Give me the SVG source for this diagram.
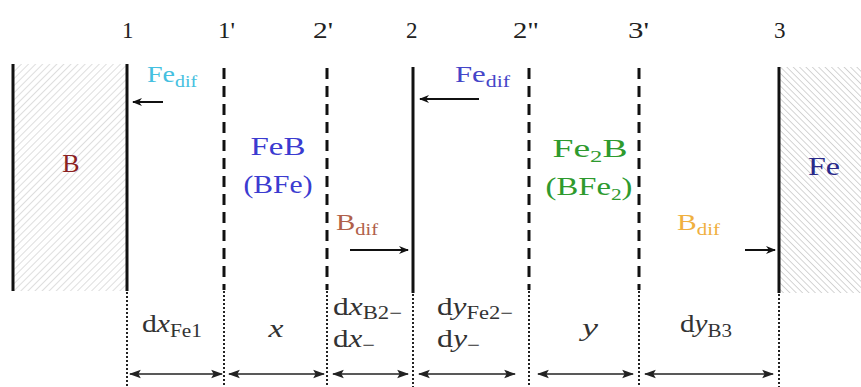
<svg xmlns="http://www.w3.org/2000/svg" width="861" height="387" viewBox="0 0 861 387">
<defs>
<pattern id="hatchL" width="5" height="5" patternUnits="userSpaceOnUse" patternTransform="rotate(45)">
<line x1="0" y1="0" x2="0" y2="5" stroke="#c8c8c8" stroke-width="1.2"/>
</pattern>
<pattern id="hatchR" width="4.5" height="4.5" patternUnits="userSpaceOnUse" patternTransform="rotate(-45)">
<line x1="0" y1="0" x2="0" y2="4.5" stroke="#bdbdbd" stroke-width="1.3"/>
</pattern>
<marker id="ah" viewBox="0 0 10 10" refX="9" refY="5" markerWidth="5" markerHeight="5" orient="auto-start-reverse" markerUnits="strokeWidth">
<path d="M0,1 L10,5 L0,9 L3,5 Z" fill="#111"/>
</marker>
<marker id="ad" viewBox="0 0 10 10" refX="9" refY="5" markerWidth="8" markerHeight="8" orient="auto-start-reverse" markerUnits="strokeWidth">
<path d="M0,1.5 L10,5 L0,8.5 L2,5 Z" fill="#222"/>
</marker>
</defs>
<style>
text{font-family:"Liberation Serif","Times New Roman",serif}
.num{font-size:23px;fill:#222}
.big{font-size:26px;text-anchor:middle}
.sub{font-size:17px}
.lbl{font-size:25px;fill:#333}
.lsub{font-size:18px}
.sol{stroke:#111;stroke-width:3;fill:none}
.dash{stroke:#111;stroke-width:3;stroke-dasharray:11 7;fill:none}
.dot{stroke:#222;stroke-width:2;stroke-dasharray:2 2;fill:none}
.flux{stroke:#111;stroke-width:2;fill:none}
.dim{stroke:#222;stroke-width:1.5;fill:none}
</style>

<g id="regionB">
<rect x="13" y="64" width="114" height="227" fill="url(#hatchL)"/>
<line class="sol" x1="13" y1="64" x2="13" y2="291"/>
<text class="big" x="71" y="172" fill="#8b2222">B</text>
</g>
<g id="regionFe">
<rect x="779" y="67" width="82" height="226" fill="url(#hatchR)"/>
<text class="big" x="824" y="175" fill="#2a2a8a" textLength="32" lengthAdjust="spacingAndGlyphs">Fe</text>
</g>
<g id="regionFeB">
<text class="big" x="278" y="155" fill="#3b3bd0" textLength="55" lengthAdjust="spacingAndGlyphs">FeB</text>
<text class="big" x="278" y="193" fill="#3b3bd0" textLength="69" lengthAdjust="spacingAndGlyphs">(BFe)</text>
</g>
<g id="regionFe2B">
<text class="big" x="590" y="157" fill="#2e9a2e" textLength="75" lengthAdjust="spacingAndGlyphs">Fe<tspan class="sub" dy="5">2</tspan><tspan dy="-5">B</tspan></text>
<text class="big" x="589" y="195" fill="#2e9a2e" textLength="87" lengthAdjust="spacingAndGlyphs">(BFe<tspan class="sub" dy="5">2</tspan><tspan dy="-5">)</tspan></text>
</g>

<g id="boundaries">
<line id="b1" class="sol" x1="127" y1="64" x2="127" y2="291"/>
<line id="b1p" class="dash" x1="224" y1="68" x2="224" y2="290"/>
<line id="b2p" class="dash" x1="327" y1="68" x2="327" y2="290"/>
<line id="b2" class="sol" x1="413" y1="67" x2="413" y2="293"/>
<line id="b2pp" class="dash" x1="529" y1="68" x2="529" y2="290"/>
<line id="b3p" class="dash" x1="639" y1="68" x2="639" y2="290"/>
<line id="b3" class="sol" x1="779" y1="67" x2="779" y2="293"/>
<line class="dot" x1="127" y1="292" x2="127" y2="387"/>
<line class="dot" x1="224" y1="291" x2="224" y2="387"/>
<line class="dot" x1="327" y1="291" x2="327" y2="387"/>
<line class="dot" x1="413" y1="294" x2="413" y2="387"/>
<line class="dot" x1="529" y1="291" x2="529" y2="387"/>
<line class="dot" x1="639" y1="291" x2="639" y2="387"/>
<line class="dot" x1="779" y1="294" x2="779" y2="387"/>
</g>

<g id="numbers">
<text class="num" x="122" y="38">1</text>
<text class="num" x="218" y="38" textLength="17" lengthAdjust="spacingAndGlyphs">1'</text>
<text class="num" x="313" y="38" textLength="20" lengthAdjust="spacingAndGlyphs">2'</text>
<text class="num" x="406" y="38">2</text>
<text class="num" x="513" y="38" textLength="26" lengthAdjust="spacingAndGlyphs">2"</text>
<text class="num" x="628" y="38" textLength="21" lengthAdjust="spacingAndGlyphs">3'</text>
<text class="num" x="774" y="38">3</text>
</g>

<g id="fluxes">
<line class="flux" x1="163" y1="102" x2="133" y2="102" marker-end="url(#ah)"/>
<line class="flux" x1="479" y1="99" x2="420" y2="99" marker-end="url(#ah)"/>
<line class="flux" x1="350" y1="250" x2="408" y2="250" marker-end="url(#ah)"/>
<line class="flux" x1="745" y1="250" x2="775" y2="250" marker-end="url(#ah)"/>
<text x="147" y="82" fill="#45c0e0" font-size="24" textLength="50" lengthAdjust="spacingAndGlyphs">Fe<tspan class="sub" dy="5">dif</tspan></text>
<text x="455" y="82" fill="#4545c8" font-size="24" textLength="55" lengthAdjust="spacingAndGlyphs">Fe<tspan class="sub" dy="5">dif</tspan></text>
<text x="336" y="230" fill="#b0604a" font-size="24" textLength="42" lengthAdjust="spacingAndGlyphs">B<tspan class="sub" dy="5">dif</tspan></text>
<text x="677" y="230" fill="#f0b040" font-size="24" textLength="43" lengthAdjust="spacingAndGlyphs">B<tspan class="sub" dy="5">dif</tspan></text>
</g>

<g id="dimensions">
<line class="dim" x1="130" y1="374" x2="222" y2="374" marker-start="url(#ad)" marker-end="url(#ad)"/>
<line class="dim" x1="229" y1="374" x2="324" y2="374" marker-start="url(#ad)" marker-end="url(#ad)"/>
<line class="dim" x1="333" y1="374" x2="408" y2="374" marker-start="url(#ad)" marker-end="url(#ad)"/>
<line class="dim" x1="419" y1="374" x2="515" y2="374" marker-start="url(#ad)" marker-end="url(#ad)"/>
<line class="dim" x1="538" y1="374" x2="633" y2="374" marker-start="url(#ad)" marker-end="url(#ad)"/>
<line class="dim" x1="645" y1="374" x2="773" y2="374" marker-start="url(#ad)" marker-end="url(#ad)"/>
</g>
<g id="widths">
<text class="lbl" x="142" y="332" textLength="60" lengthAdjust="spacingAndGlyphs">d<tspan font-style="italic">x</tspan><tspan class="lsub" dy="5">Fe1</tspan></text>
<text class="lbl" x="276" y="337" text-anchor="middle" font-style="italic" textLength="15" lengthAdjust="spacingAndGlyphs">x</text>
<text class="lbl" x="333" y="315" textLength="69" lengthAdjust="spacingAndGlyphs">d<tspan font-style="italic">x</tspan><tspan class="lsub" dy="4">B2−</tspan></text>
<text class="lbl" x="333" y="347" textLength="42" lengthAdjust="spacingAndGlyphs">d<tspan font-style="italic">x</tspan><tspan class="lsub" dy="4">−</tspan></text>
<text class="lbl" x="437" y="315" textLength="76" lengthAdjust="spacingAndGlyphs">d<tspan font-style="italic">y</tspan><tspan class="lsub" dy="4">Fe2−</tspan></text>
<text class="lbl" x="437" y="347" textLength="43" lengthAdjust="spacingAndGlyphs">d<tspan font-style="italic">y</tspan><tspan class="lsub" dy="4">−</tspan></text>
<text class="lbl" x="590" y="336" text-anchor="middle" font-style="italic" textLength="16" lengthAdjust="spacingAndGlyphs">y</text>
<text class="lbl" x="680" y="332" textLength="52" lengthAdjust="spacingAndGlyphs">d<tspan font-style="italic">y</tspan><tspan class="lsub" dy="5">B3</tspan></text>
</g>
</svg>
